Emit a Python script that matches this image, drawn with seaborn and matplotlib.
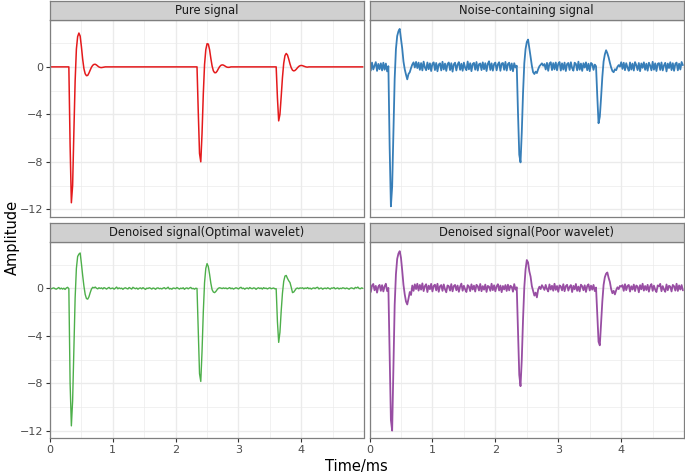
import numpy as np
import pandas as pd
import matplotlib
matplotlib.use("Agg")
import matplotlib.pyplot as plt
import seaborn as sns

# ---- data (amplitude vs time in ms) ----
# pure signal: knots of three damped pulses, flat at zero between them
pure_time = [0.00, 0.30, 0.32, 0.34, 0.36, 0.38, 0.40, 0.42, 0.44, 0.46, 0.48, 0.50, 0.52, 0.54,
             0.56, 0.58, 0.60, 0.62, 0.64, 0.66, 0.68, 0.70, 0.72, 0.74, 0.76, 0.78, 0.80,
             0.82, 0.84, 0.86, 0.88,
             2.34, 2.36, 2.38, 2.40, 2.42, 2.44, 2.46, 2.48, 2.50, 2.52, 2.54, 2.56, 2.58,
             2.60, 2.62, 2.64, 2.66, 2.68, 2.70, 2.72, 2.74, 2.76, 2.78, 2.80, 2.82, 2.84,
             2.86, 2.88,
             3.60, 3.62, 3.64, 3.66, 3.68, 3.70, 3.72, 3.74, 3.76, 3.78, 3.80, 3.82, 3.84,
             3.86, 3.88, 3.90, 3.92, 3.94, 3.96, 3.98, 4.00, 4.02, 4.04, 4.06, 4.08, 4.10,
             4.12, 4.98]
pure_amp = [0.0, 0.0, -6.6, -11.45, -10.0, -5.5, -1.2, 1.5, 2.55, 2.85, 2.6, 1.7, 0.65, -0.15,
            -0.58, -0.74, -0.72, -0.52, -0.27, -0.03, 0.13, 0.21, 0.22, 0.16, 0.07, -0.01, -0.05,
            -0.06, -0.04, -0.02, 0.0,
            0.0, -3.8, -7.3, -8.0, -5.6, -2.3, 0.2, 1.45, 1.95, 1.92, 1.45, 0.72, 0.08,
            -0.33, -0.49, -0.49, -0.36, -0.16, 0.02, 0.13, 0.17, 0.15, 0.09, 0.02, -0.03, -0.04,
            -0.03, 0.0,
            0.0, -2.6, -4.55, -4.0, -2.5, -0.9, 0.3, 0.95, 1.13, 1.0, 0.65, 0.25, -0.08,
            -0.28, -0.34, -0.3, -0.2, -0.07, 0.04, 0.1, 0.12, 0.1, 0.06, 0.02, -0.01, -0.02,
            0.0, 0.0]

# sampled series, one value every 0.02 ms from 0 to 4.98 ms (rows of 0.2 ms)
noisy_amp = [
    0.12, -0.31, 0.36, -0.22, 0.08, 0.4, -0.34, 0.25, -0.2, 0.3,
    -0.3, 0.35, -0.24, 0.28, -0.38, 0.06, -6.7, -11.75, -10.1, -5.4,
    -1.0, 1.5, 2.6, 3.0, 3.2, 2.4, 1.55, 0.45, -0.2, -0.65,
    -1.05, -0.6, -0.45, -0.1, 0.2, 0.38, -0.05, 0.42, -0.1, 0.36,
    -0.25, 0.32, -0.3, 0.44, -0.05, -0.28, 0.37, -0.2, 0.3, -0.35,
    0.26, 0.38, -0.27, 0.33, -0.37, 0.2, 0.3, -0.3, 0.43, -0.22,
    0.28, -0.34, 0.24, 0.37, -0.27, 0.31, -0.4, 0.22, 0.35, -0.3,
    0.2, 0.4, -0.25, 0.27, -0.33, 0.36, -0.08, -0.28, 0.45, -0.21,
    0.31, -0.36, 0.25, 0.34, -0.24, 0.41, -0.31, 0.22, 0.29, -0.27,
    0.38, -0.2, 0.31, -0.35, 0.26, 0.47, -0.26, 0.3, -0.32, 0.24,
    0.36, -0.29, 0.21, 0.39, -0.33, 0.28, 0.33, -0.25, 0.42, -0.31,
    0.24, 0.35, -0.27, 0.29, -0.37, 0.31, -0.05, 0.1, -3.9, -7.4,
    -8.05, -5.5, -2.2, 0.3, 1.5, 2.1, 2.3, 1.6, 0.85, 0.1,
    -0.45, -0.6, -0.4, -0.52, -0.2, 0.05, 0.18, 0.3, 0.1, 0.24,
    -0.22, 0.34, -0.33, 0.28, 0.39, -0.27, 0.32, -0.21, 0.37, -0.29,
    0.26, 0.41, -0.31, 0.3, -0.23, 0.36, -0.35, 0.24, 0.33, -0.26,
    0.39, -0.1, -0.32, 0.35, 0.25, -0.29, 0.44, -0.24, 0.28, -0.34,
    0.31, -0.06, 0.38, -0.28, 0.27, -0.36, 0.33, 0.23, -0.25, 0.19,
    0.05, -2.5, -4.75, -4.2, -2.6, -0.85, 0.45, 1.05, 1.4, 1.15,
    0.8, 0.35, -0.05, -0.35, -0.45, -0.2, -0.28, 0.0, 0.15, 0.02,
    0.39, -0.17, 0.35, -0.28, 0.31, -0.06, -0.33, 0.37, -0.23, 0.28,
    -0.31, 0.4, 0.14, -0.27, 0.33, -0.36, 0.29, -0.08, 0.38, -0.25,
    0.27, -0.32, 0.35, 0.12, -0.29, 0.43, -0.24, 0.3, -0.35, 0.26,
    0.32, -0.26, 0.37, -0.3, 0.13, 0.34, -0.38, 0.28, -0.1, 0.39,
    -0.27, 0.31, -0.33, 0.25, 0.36, -0.29, 0.27, -0.22, 0.41, 0.14]

optimal_amp = [
    0.0, -0.03, 0.02, 0.05, -0.02, -0.06, 0.01, 0.08, -0.04, 0.03,
    -0.05, 0.02, -0.08, 0.04, 0.1, -0.02, -8.0, -11.6, -9.5, -5.0,
    -0.8, 1.7, 2.7, 2.9, 3.0, 2.1, 1.1, 0.2, -0.5, -0.85,
    -0.9, -0.7, -0.35, -0.05, 0.1, 0.05, 0.12, 0.02, -0.03, 0.06,
    0.0, 0.05, -0.04, 0.07, 0.02, -0.05, 0.03, 0.09, -0.02, 0.01,
    0.04, -0.06, 0.02, 0.12, -0.03, 0.05, -0.01, 0.03, -0.07, 0.02,
    0.06, 0.0, -0.04, 0.08, 0.01, -0.05, 0.1, 0.03, -0.02, 0.04,
    -0.06, 0.02, 0.05, -0.03, 0.07, -0.01, -0.08, 0.03, 0.0, 0.06,
    0.02, -0.05, 0.04, 0.01, -0.07, 0.03, 0.05, -0.02, 0.01, -0.04,
    0.03, 0.07, -0.03, 0.02, 0.11, -0.04, 0.0, -0.06, 0.04, 0.02,
    -0.02, 0.08, 0.01, -0.05, 0.03, -0.01, 0.06, -0.07, 0.02, 0.05,
    -0.03, 0.04, 0.09, -0.02, 0.01, -0.06, 0.02, 0.0, -3.6, -7.2,
    -7.85, -5.3, -2.0, 0.5, 1.7, 2.1, 1.85, 1.2, 0.45, -0.1,
    -0.3, -0.35, -0.25, -0.1, 0.02, 0.06, 0.03, -0.01, 0.05, 0.0,
    0.04, -0.03, 0.02, 0.07, -0.02, 0.03, -0.05, 0.01, 0.06, 0.02,
    -0.04, 0.05, 0.1, -0.01, 0.03, -0.06, 0.02, 0.04, -0.03, 0.08,
    0.01, -0.02, 0.05, 0.03, -0.07, 0.02, 0.06, -0.01, 0.04, -0.05,
    0.07, 0.0, 0.03, -0.04, 0.02, 0.06, -0.02, 0.01, 0.04, -0.03,
    -0.02, -2.8, -4.55, -3.7, -1.9, -0.4, 0.6, 1.05, 1.1, 0.85,
    0.65, 0.5, 0.1, -0.35, -0.3, -0.15, 0.0, 0.04, -0.02, 0.05,
    0.02, 0.06, -0.03, 0.04, 0.0, 0.08, -0.02, 0.03, -0.05, 0.02,
    0.05, -0.01, 0.07, 0.1, -0.04, 0.02, 0.04, -0.06, 0.01, 0.03,
    -0.02, 0.06, 0.0, -0.05, 0.04, 0.02, 0.08, -0.03, 0.01, 0.05,
    -0.04, 0.02, -0.01, 0.06, 0.03, -0.02, 0.04, 0.0, -0.06, 0.02,
    0.05, 0.01, -0.03, 0.09, 0.04, 0.12, 0.0, -0.02, 0.05, 0.01]

poor_amp = [
    0.2, -0.3, 0.25, 0.38, -0.15, 0.22, -0.35, 0.16, 0.3, -0.2,
    0.28, -0.25, 0.18, 0.4, -0.22, 0.05, -5.6, -11.1, -12.0, -6.9,
    -1.4, 1.2, 2.5, 2.95, 3.15, 2.6, 1.5, 0.3, -0.5, -1.1,
    -1.35, -0.85, -0.3, -0.55, 0.25, -0.2, 0.35, -0.05, 0.4, -0.18,
    0.3, -0.1, 0.43, -0.22, 0.2, 0.36, -0.3, 0.24, -0.06, 0.39,
    -0.25, 0.22, 0.32, -0.16, 0.4, -0.28, 0.18, 0.29, -0.2, 0.34,
    -0.07, -0.32, 0.26, 0.19, -0.18, 0.37, -0.24, 0.21, 0.3, -0.15,
    0.25, -0.28, 0.16, 0.41, -0.19, 0.23, -0.08, -0.3, 0.28, 0.17,
    -0.22, 0.35, -0.09, 0.24, -0.26, 0.31, 0.19, -0.17, 0.38, -0.23,
    0.2, -0.1, 0.33, -0.29, 0.22, 0.15, -0.2, 0.4, -0.14, 0.27,
    -0.24, 0.18, 0.36, -0.17, 0.25, -0.31, 0.21, -0.08, 0.29, -0.21,
    0.32, -0.16, 0.23, 0.14, -0.27, 0.37, -0.1, 0.1, -3.6, -7.3,
    -8.25, -6.0, -2.6, 0.1, 1.6, 2.4, 2.2, 1.45, 1.0, 0.2,
    -0.2, -0.6, -0.35, -0.75, -0.1, 0.15, -0.05, 0.28, 0.1, -0.12,
    0.3, -0.04, -0.25, 0.34, -0.09, 0.23, -0.19, 0.4, -0.12, 0.21,
    -0.28, 0.26, 0.17, -0.16, 0.36, -0.23, 0.2, 0.31, -0.18, 0.14,
    0.29, -0.3, 0.22, -0.07, 0.38, -0.2, 0.16, -0.25, 0.32, 0.19,
    -0.15, 0.27, -0.29, 0.21, 0.35, -0.17, 0.24, -0.1, 0.3, -0.22,
    0.08, -2.3, -4.5, -4.8, -3.0, -1.1, 0.3, 0.95, 1.25, 1.35,
    0.9, 0.55, -0.05, -0.4, -0.2, -0.5, -0.15, 0.1, -0.05, 0.22,
    0.15, 0.28, -0.2, 0.36, -0.14, 0.22, 0.3, -0.26, 0.19, -0.09,
    0.33, -0.22, 0.25, 0.16, -0.32, 0.28, -0.07, 0.4, -0.18, 0.21,
    -0.13, 0.31, -0.27, 0.19, 0.37, -0.2, 0.24, -0.1, -0.3, 0.26,
    0.17, 0.39, -0.23, 0.2, -0.08, -0.28, 0.34, -0.15, 0.23, 0.16,
    -0.25, 0.3, 0.19, -0.18, 0.4, -0.21, 0.26, -0.09, 0.29, -0.16]

panel_titles = ["Pure signal", "Noise-containing signal",
                "Denoised signal(Optimal wavelet)", "Denoised signal(Poor wavelet)"]
panel_colors = ["#E41A1C", "#377EB8", "#4DAF4A", "#984EA3"]

# sampling grid of the recorded series
sample_time = np.round(np.arange(len(noisy_amp)) * 0.02, 2)

frames = [pd.DataFrame({"time": pure_time, "amp": pure_amp, "panel": panel_titles[0]})]
for title, amp in zip(panel_titles[1:], [noisy_amp, optimal_amp, poor_amp]):
    frames.append(pd.DataFrame({"time": sample_time, "amp": amp, "panel": title}))
df = pd.concat(frames, ignore_index=True)

sns.set_theme(style="white")
plt.rcParams["font.family"] = ["DejaVu Sans"]

fig = plt.figure(figsize=(6.85, 4.75), dpi=100)

W, H = 685, 475
cols = [(50, 363.5), (369.5, 683.5)]
rows = [(20, 217, 1, 20), (241.7, 438.3, 223.3, 241.7)]

grid_col = "#EBEBEB"
frame_col = "#7F7F7F"
line_widths = [1.1, 1.3, 1.0, 1.3]

for k, title in enumerate(panel_titles):
    r, c = divmod(k, 2)
    x0, x1 = cols[c]
    y0, y1, s0, s1 = rows[r]
    ax = fig.add_axes([x0 / W, 1 - y1 / H, (x1 - x0) / W, (y1 - y0) / H])
    sub = df[df["panel"] == title]
    sns.lineplot(data=sub, x="time", y="amp", color=panel_colors[k], ax=ax,
                 linewidth=line_widths[k], estimator=None, sort=False)
    ax.set_xlim(0, 4.99)
    ax.set_ylim(-12.65, 3.95)
    ax.set_xticks([0, 1, 2, 3, 4])
    ax.set_xticks([0.5, 1.5, 2.5, 3.5, 4.5], minor=True)
    ax.set_yticks([-12, -8, -4, 0])
    ax.set_yticks([-10, -6, -2, 2], minor=True)
    ax.grid(True, which="major", color=grid_col, linewidth=1.0)
    ax.grid(True, which="minor", color=grid_col, linewidth=0.5)
    ax.set_axisbelow(True)
    ax.set_facecolor("white")
    for sp in ax.spines.values():
        sp.set_color(frame_col)
        sp.set_linewidth(0.9)
    ax.set_xlabel("")
    ax.set_ylabel("")
    ax.tick_params(which="minor", length=0)
    ax.tick_params(which="major", length=3, width=0.8, color="#333333",
                   labelsize=8, labelcolor="#4D4D4D", pad=2)
    if c == 1:
        ax.tick_params(axis="y", left=False, labelleft=False)
    else:
        ax.tick_params(axis="y", left=True)
    if r == 0:
        ax.tick_params(axis="x", bottom=False, labelbottom=False)
    else:
        ax.tick_params(axis="x", bottom=True)

    # facet strip
    sax = fig.add_axes([x0 / W, 1 - s1 / H, (x1 - x0) / W, (s1 - s0) / H])
    sax.set_facecolor("#D0D0D0")
    sax.set_xticks([])
    sax.set_yticks([])
    for sp in sax.spines.values():
        sp.set_color(frame_col)
        sp.set_linewidth(0.9)
    sax.text(0.5, 0.5, title, ha="center", va="center", fontsize=8.3,
             color="#1A1A1A", transform=sax.transAxes)

fig.text(12 / W, 1 - 237 / H, "Amplitude", rotation=90, ha="center", va="center",
         fontsize=10.5, color="black")
fig.text(356 / W, 1 - 467 / H, "Time/ms", ha="center", va="center",
         fontsize=10.5, color="black")

fig.savefig("out.png", dpi=100)
